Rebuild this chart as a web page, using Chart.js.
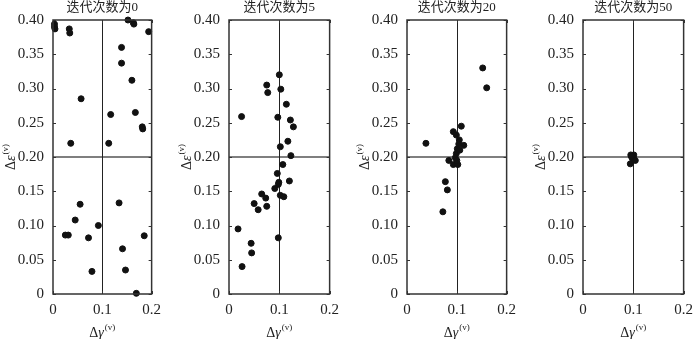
<!DOCTYPE html>
<html>
<head>
<meta charset="utf-8">
<script src="https://cdn.jsdelivr.net/npm/chart.js@4.4.1/dist/chart.umd.min.js"></script>
<style>
  html, body { margin: 0; padding: 0; background: #fff; }
  #wrap { position: relative; width: 700px; height: 339px; overflow: hidden; }
  #wrap canvas { position: absolute; top: 0; }
</style>
</head>
<body>
<div id="wrap"></div>
<script>
// panel titles
const titles = ['迭代次数为0', '迭代次数为5', '迭代次数为20', '迭代次数为50'];

// axis ticks
const xTicks = [0, 0.1, 0.2];
const yTicks = [0, 0.05, 0.10, 0.15, 0.20, 0.25, 0.30, 0.35, 0.40];

// iteration 0
const gamma0 = [0.003, 0.003, 0.004, 0.033, 0.034, 0.057, 0.036, 0.152, 0.163, 0.164, 0.194, 0.139, 0.139, 0.160, 0.117, 0.167, 0.181, 0.182, 0.113,
                0.025, 0.031, 0.055, 0.045, 0.072, 0.092, 0.079, 0.134, 0.185, 0.141, 0.147, 0.169];
const eps0   = [0.394, 0.390, 0.387, 0.387, 0.381, 0.285, 0.220, 0.400, 0.396, 0.394, 0.383, 0.360, 0.337, 0.312, 0.262, 0.265, 0.244, 0.241, 0.220,
                0.086, 0.086, 0.131, 0.108, 0.082, 0.100, 0.033, 0.133, 0.085, 0.066, 0.035, 0.001];

// iteration 5
const gamma5 = [0.100, 0.075, 0.077, 0.103, 0.114, 0.025, 0.097, 0.122, 0.128, 0.117, 0.102, 0.123, 0.107, 0.096, 0.099, 0.098, 0.091, 0.120, 0.102, 0.109,
                0.065, 0.073, 0.050, 0.075, 0.058, 0.018, 0.044, 0.045, 0.026, 0.098];
const eps5   = [0.320, 0.305, 0.294, 0.299, 0.277, 0.259, 0.258, 0.254, 0.244, 0.223, 0.215, 0.202, 0.189, 0.176, 0.163, 0.160, 0.154, 0.165, 0.144, 0.142,
                0.146, 0.140, 0.132, 0.128, 0.123, 0.095, 0.074, 0.060, 0.040, 0.082];

// iteration 20
const gamma20 = [0.152, 0.160, 0.038, 0.109, 0.093, 0.099, 0.105, 0.114, 0.104, 0.101, 0.099, 0.097, 0.084, 0.093, 0.102, 0.077, 0.081, 0.072, 0.100, 0.106];
const eps20   = [0.330, 0.301, 0.220, 0.245, 0.237, 0.232, 0.225, 0.217, 0.219, 0.212, 0.205, 0.199, 0.195, 0.189, 0.189, 0.164, 0.152, 0.120, 0.195, 0.210];

// iteration 50
const gamma50 = [0.094, 0.095, 0.101, 0.098, 0.101, 0.104, 0.096];
const eps50   = [0.190, 0.203, 0.203, 0.198, 0.197, 0.195, 0.201];

const gammaSets = [gamma0, gamma5, gamma20, gamma50];
const epsSets = [eps0, eps5, eps20, eps50];

// reference lines
const xRef = 0.1;
const yRef = 0.2;

// layout
const plotLeft = [53, 229, 407, 583];
const plotRight = [163, 341, 518, 695];
const axisW = 53;
const padR = 5;
const serif = '"Liberation Serif", "Times New Roman", serif';
const cjk = '"Liberation Serif", "Noto Sans CJK SC", serif';

function drawSup(ctx, x, y, sym, align) {
  // draws Δ + italic symbol + superscript (v)
  ctx.textBaseline = 'alphabetic';
  ctx.font = '14px ' + serif;
  const wD = ctx.measureText('Δ').width;
  ctx.font = 'italic 14px ' + serif;
  const wS = ctx.measureText(sym).width;
  ctx.font = '9px ' + serif;
  const wV = ctx.measureText('(v)').width;
  const total = wD + wS + wV + 1;
  let x0 = align === 'center' ? x - total / 2 : x;
  ctx.textAlign = 'left';
  ctx.font = '14px ' + serif;
  ctx.fillText('Δ', x0, y);
  ctx.font = 'italic 14px ' + serif;
  ctx.fillText(sym, x0 + wD, y);
  ctx.font = '9px ' + serif;
  ctx.fillText('(v)', x0 + wD + wS + 1, y - 7);
}

const decor = {
  id: 'decor',
  beforeDatasetsDraw(chart, args, opts) {
    const { ctx, chartArea: a, scales: { x, y } } = chart;
    ctx.save();
    // reference cross
    const px = x.getPixelForValue(xRef);
    const py = y.getPixelForValue(yRef);
    ctx.strokeStyle = '#555';
    ctx.lineWidth = 1.5;
    ctx.beginPath();
    ctx.moveTo(a.left, py); ctx.lineTo(a.right, py);
    ctx.stroke();
    ctx.strokeStyle = '#222';
    ctx.lineWidth = 1;
    ctx.beginPath();
    ctx.moveTo(Math.round(px) + 0.5, a.top); ctx.lineTo(Math.round(px) + 0.5, a.bottom);
    ctx.stroke();
    // inward ticks
    ctx.strokeStyle = '#333';
    ctx.lineWidth = 1;
    ctx.beginPath();
    yTicks.forEach(v => {
      const ty = Math.round(y.getPixelForValue(v)) + 0.5;
      ctx.moveTo(a.left, ty); ctx.lineTo(a.left + 3, ty);
      ctx.moveTo(a.right, ty); ctx.lineTo(a.right - 3, ty);
    });
    xTicks.forEach(v => {
      const tx = Math.round(x.getPixelForValue(v)) + 0.5;
      ctx.moveTo(tx, a.bottom); ctx.lineTo(tx, a.bottom - 3);
      ctx.moveTo(tx, a.top); ctx.lineTo(tx, a.top + 3);
    });
    ctx.stroke();
    ctx.restore();
  },
  afterDraw(chart, args, opts) {
    const { ctx, chartArea: a } = chart;
    ctx.save();
    // frame
    ctx.strokeStyle = '#333';
    ctx.lineWidth = 1.5;
    ctx.strokeRect(a.left, a.top, a.right - a.left, a.bottom - a.top);
    ctx.fillStyle = '#222';
    // title
    ctx.font = '13px ' + cjk;
    ctx.textAlign = 'center';
    ctx.textBaseline = 'middle';
    ctx.fillText(opts.title, (a.left + a.right) / 2, 8);
    // x title
    drawSup(ctx, (a.left + a.right) / 2, 337, 'γ', 'center');
    // y title
    ctx.translate(15, (a.top + a.bottom) / 2);
    ctx.rotate(-Math.PI / 2);
    drawSup(ctx, 0, 0, 'ε', 'center');
    ctx.restore();
  }
};

const wrap = document.getElementById('wrap');

for (let i = 0; i < 4; i++) {
  const left = plotLeft[i] - axisW;
  const width = plotRight[i] - plotLeft[i] + axisW + padR;
  const canvas = document.createElement('canvas');
  canvas.style.left = left + 'px';
  canvas.style.width = width + 'px';
  canvas.style.height = '339px';
  canvas.width = width;
  canvas.height = 339;
  wrap.appendChild(canvas);

  const points = gammaSets[i].map((g, k) => ({ x: g, y: epsSets[i][k] }));

  new Chart(canvas.getContext('2d'), {
    type: 'scatter',
    data: {
      datasets: [{
        data: points,
        backgroundColor: '#111',
        borderColor: '#111',
        pointRadius: 3,
        pointHoverRadius: 3,
        clip: false
      }]
    },
    options: {
      responsive: false,
      animation: false,
      events: [],
      layout: { padding: { left: 0, right: padR, top: 20, bottom: 0 } },
      plugins: {
        legend: { display: false },
        tooltip: { enabled: false },
        decor: { title: titles[i] }
      },
      scales: {
        x: {
          type: 'linear',
          min: 0, max: 0.2,
          afterBuildTicks: s => { s.ticks = xTicks.map(v => ({ value: v })); },
          afterFit: s => { s.height = 339 - 294; },
          grid: { display: false, drawTicks: false },
          border: { display: false },
          ticks: {
            padding: 7,
            color: '#222',
            font: { family: serif, size: 15 },
            callback: v => v === 0 ? '0' : v.toFixed(1)
          }
        },
        y: {
          type: 'linear',
          min: 0, max: 0.4,
          afterBuildTicks: s => { s.ticks = yTicks.map(v => ({ value: v })); },
          afterFit: s => { s.width = axisW; },
          grid: { display: false, drawTicks: false },
          border: { display: false },
          ticks: {
            padding: 9,
            color: '#222',
            font: { family: serif, size: 15 },
            callback: v => v === 0 ? '0' : v.toFixed(2)
          }
        }
      }
    },
    plugins: [decor]
  });
}
</script>
</body>
</html>
